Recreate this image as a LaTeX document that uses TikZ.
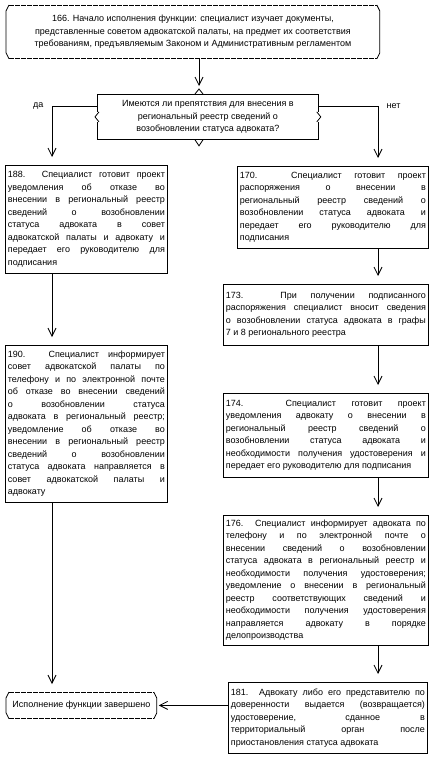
\documentclass[tikz,border=0pt]{standalone}
\usepackage{fontspec}
\setmainfont{Liberation Sans}
\usetikzlibrary{arrows.meta}
\tolerance=10000 \hbadness=10000 \hyphenpenalty=10000

\begin{document}
\begin{tikzpicture}[x=1pt,y=-1pt,line width=0.8pt,font=\fontsize{9}{12.5}\selectfont,
  box/.style={draw,anchor=north west,inner xsep=2.5pt,inner ysep=0pt,align=justify},
  term/.style={anchor=north west,inner sep=0pt,align=center},
  arr/.style={-{Straight Barb[length=8pt,width=8pt]},shorten >=8pt}]
  \useasboundingbox (0,0) rectangle (434,760);
  % columns of the connectors
  \coordinate (lc) at (52,0);
  \coordinate (mc) at (199,0);
  \coordinate (rc) at (378,0);

  \node[term,minimum width=375pt,minimum height=53pt] (start) at (5,5)
    {166. Начало исполнения функции: специалист изучает документы,\\
     представленные советом адвокатской палаты, на предмет их соответствия\\
     требованиям, предъявляемым Законом и Административным регламентом};
  \node[draw,anchor=north west,minimum width=221pt,minimum height=45pt,align=center] (q) at (97,94)
    {Имеются ли препятствия для внесения в\\ региональный реестр сведений о\\ возобновлении статуса адвоката?};

  \node[box,text width=157pt,minimum height=108pt] (b188) at (5,165)
    {188. Специалист готовит проект\linebreak
     уведомления об отказе во\linebreak
     внесении в региональный реестр\linebreak
     сведений о возобновлении\linebreak
     статуса адвоката в совет\linebreak
     адвокатской палаты и адвокату и\linebreak
     передает его руководителю для\linebreak
     подписания};
  \node[box,text width=157pt,minimum height=157pt] (b190) at (5,345)
    {190. Специалист информирует\linebreak
     совет адвокатской палаты по\linebreak
     телефону и по электронной почте\linebreak
     об отказе во внесении сведений\linebreak
     о возобновлении статуса\linebreak
     адвоката в региональный реестр;\linebreak
     уведомление об отказе во\linebreak
     внесении в региональный реестр\linebreak
     сведений о возобновлении\linebreak
     статуса адвоката направляется в\linebreak
     совет адвокатской палаты и\linebreak
     адвокату};
  \node[box,text width=186pt,minimum height=82pt] (b170) at (237,166)
    {170. Специалист готовит проект\linebreak
     распоряжения о внесении в\linebreak
     региональный реестр сведений о\linebreak
     возобновлении статуса адвоката и\linebreak
     передает его руководителю для\linebreak
     подписания};
  \node[box,text width=200pt,minimum height=61pt] (b173) at (223,284)
    {173. При получении подписанного\linebreak
     распоряжения специалист вносит сведения\linebreak
     о возобновлении статуса адвоката в графы\linebreak
     7 и 8 регионального реестра};
  \node[box,text width=200pt,minimum height=84pt] (b174) at (223,393)
    {174. Специалист готовит проект\linebreak
     уведомления адвокату о внесении в\linebreak
     региональный реестр сведений о\linebreak
     возобновлении статуса адвоката и\linebreak
     необходимости получения удостоверения и\linebreak
     передает его руководителю для подписания};
  \node[box,text width=200pt,minimum height=130pt] (b176) at (223,515)
    {176. Специалист информирует адвоката по\linebreak
     телефону и по электронной почте о\linebreak
     внесении сведений о возобновлении\linebreak
     статуса адвоката в региональный реестр и\linebreak
     необходимости получения удостоверения;\linebreak
     уведомление о внесении в региональный\linebreak
     реестр соответствующих сведений и\linebreak
     необходимости получения удостоверения\linebreak
     направляется адвокату в порядке\linebreak
     делопроизводства};
  \node[box,text width=194pt,minimum height=71pt] (b181) at (228,682)
    {181. Адвокату либо его представителю по\linebreak
     доверенности выдается (возвращается)\linebreak
     удостоверение, сданное в\linebreak
     территориальный орган после\linebreak
     приостановления статуса адвоката};
  \node[term,minimum width=152pt,minimum height=26pt] (stop) at (5,692)
    {Исполнение функции завершено};

  % frames of the terminals
  \foreach \t in {start,stop}{
    \draw[dash pattern=on 5pt off 1pt] ([xshift=4pt]\t.north west) -- ([xshift=-4pt]\t.north east)
      ([xshift=4pt]\t.south west) -- ([xshift=-4pt]\t.south east);
    \draw ([xshift=4pt]\t.north west) -- ([xshift=1pt,yshift=-6pt]\t.north west)
      -- ([xshift=1pt,yshift=6pt]\t.south west) -- ([xshift=4pt]\t.south west);
    \draw ([xshift=-4pt]\t.north east) -- ([xshift=-1pt,yshift=-6pt]\t.north east)
      -- ([xshift=-1pt,yshift=6pt]\t.south east) -- ([xshift=-4pt]\t.south east);
  }

  % marks of the question
  \coordinate (qt) at (q.north -| mc);
  \coordinate (qb) at (q.south -| mc);
  \draw (qt) ++(-4,0) -- ++(4,-5) -- ++(4,5);
  \draw (qb) ++(-4,0) -- ++(4,6) -- ++(4,-6);
  \draw[white,line width=2pt] (q.west) ++(0,-5) -- ++(0,10) (q.east) ++(0,-5) -- ++(0,10);
  \draw (q.west) ++(2,-5) -- ++(-4,5) -- ++(4,5);
  \draw (q.east) ++(-2,-5) -- ++(4,5) -- ++(-4,5);

  \draw[arr] (start.south -| mc) -- (q.north -| mc);
  \draw[arr] ([yshift=-12pt]q.north west) -| (b188.north -| lc) node[pos=.5,left=5pt] (yes) {да};
  \draw[arr] ([yshift=-12pt]q.north east) -| (b170.north -| rc) node[pos=.5,right=5pt] (no) {нет};
  \draw[arr] (b188.south -| lc) -- (b190.north -| lc);
  \draw[arr] (b190.south -| lc) -- (stop.north -| lc);
  \draw[arr] (b170.south -| rc) -- (b173.north -| rc);
  \draw[arr] (b173.south -| rc) -- (b174.north -| rc);
  \draw[arr] (b174.south -| rc) -- (b176.north -| rc);
  \draw[arr] (b176.south -| rc) -- (b181.north -| rc);
  \draw[arr,shorten >=1pt] (stop.east -| b181.west) -- (stop.east);
\end{tikzpicture}
\end{document}
